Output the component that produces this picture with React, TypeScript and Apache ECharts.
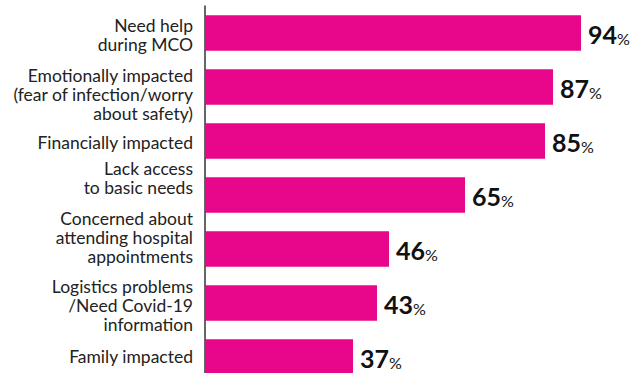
import React, { useEffect, useRef } from "react";
import * as echarts from "echarts";

const categories = [
  "Need help\nduring MCO",
  "Emotionally impacted\n(fear of infection/worry\nabout safety)",
  "Financially impacted",
  "Lack access\nto basic needs",
  "Concerned about\nattending hospital\nappointments",
  "Logistics problems\n/Need Covid-19\ninformation",
  "Family impacted",
];
const values = [94, 87, 85, 65, 46, 43, 37];
// vertical nudge of each category label (px, positive = down)
const labelShift = [2, 7, 1, -17, -12, 2, -1];

export default function App() {
  const ref = useRef<HTMLDivElement>(null);
  useEffect(() => {
    document.body.style.margin = "0";
    const chart = echarts.init(ref.current!, null, { renderer: "svg" });
    chart.setOption({
      animation: false,
      backgroundColor: "#ffffff",
      grid: { left: 205, right: 27, top: 6, bottom: 0, containLabel: false },
      xAxis: {
        type: "value",
        min: 0,
        max: 100,
        show: false,
      },
      yAxis: {
        type: "category",
        inverse: true,
        data: categories,
        axisLine: { show: true, lineStyle: { color: "#333333", width: 1.5 } },
        axisTick: { show: false },
        axisLabel: { show: false },
      },
      series: [
        {
          type: "bar",
          data: values,
          barCategoryGap: "34%",
          itemStyle: { color: "#e8068a" },
          label: {
            show: true,
            position: "right",
            distance: 7,
            offset: [0, 2],
            formatter: (p: any) => `{n|${p.value}}{p|%}`,
            rich: {
              n: {
                fontFamily: "Lato",
                fontWeight: "bold",
                fontSize: 25,
                color: "#111111",
                lineHeight: 22,
                verticalAlign: "bottom",
              },
              p: {
                fontFamily: "Lato",
                fontSize: 16,
                color: "#111111",
                lineHeight: 22,
                verticalAlign: "bottom",
              },
            },
          },
        },
        {
          type: "custom",
          clip: false,
          silent: true,
          data: categories.map((_, i) => [0, i]),
          encode: { x: 0, y: 1 },
          renderItem: (params: any, api: any) => {
            const i = api.value(1);
            const pt = api.coord([0, i]);
            return {
              type: "text",
              x: pt[0] - 12,
              y: pt[1] + labelShift[i],
              style: {
                text: categories[i],
                align: "right",
                verticalAlign: "middle",
                fontFamily: "Lato",
                fontSize: 17.5,
                lineHeight: 19,
                fill: "#222222",
              },
            };
          },
        },
      ],
    });
    return () => chart.dispose();
  }, []);
  return (
    <div style={{ width: 632, height: 373, overflow: "hidden" }}>
      <div ref={ref} style={{ width: 632, height: 384 }} />
    </div>
  );
}
